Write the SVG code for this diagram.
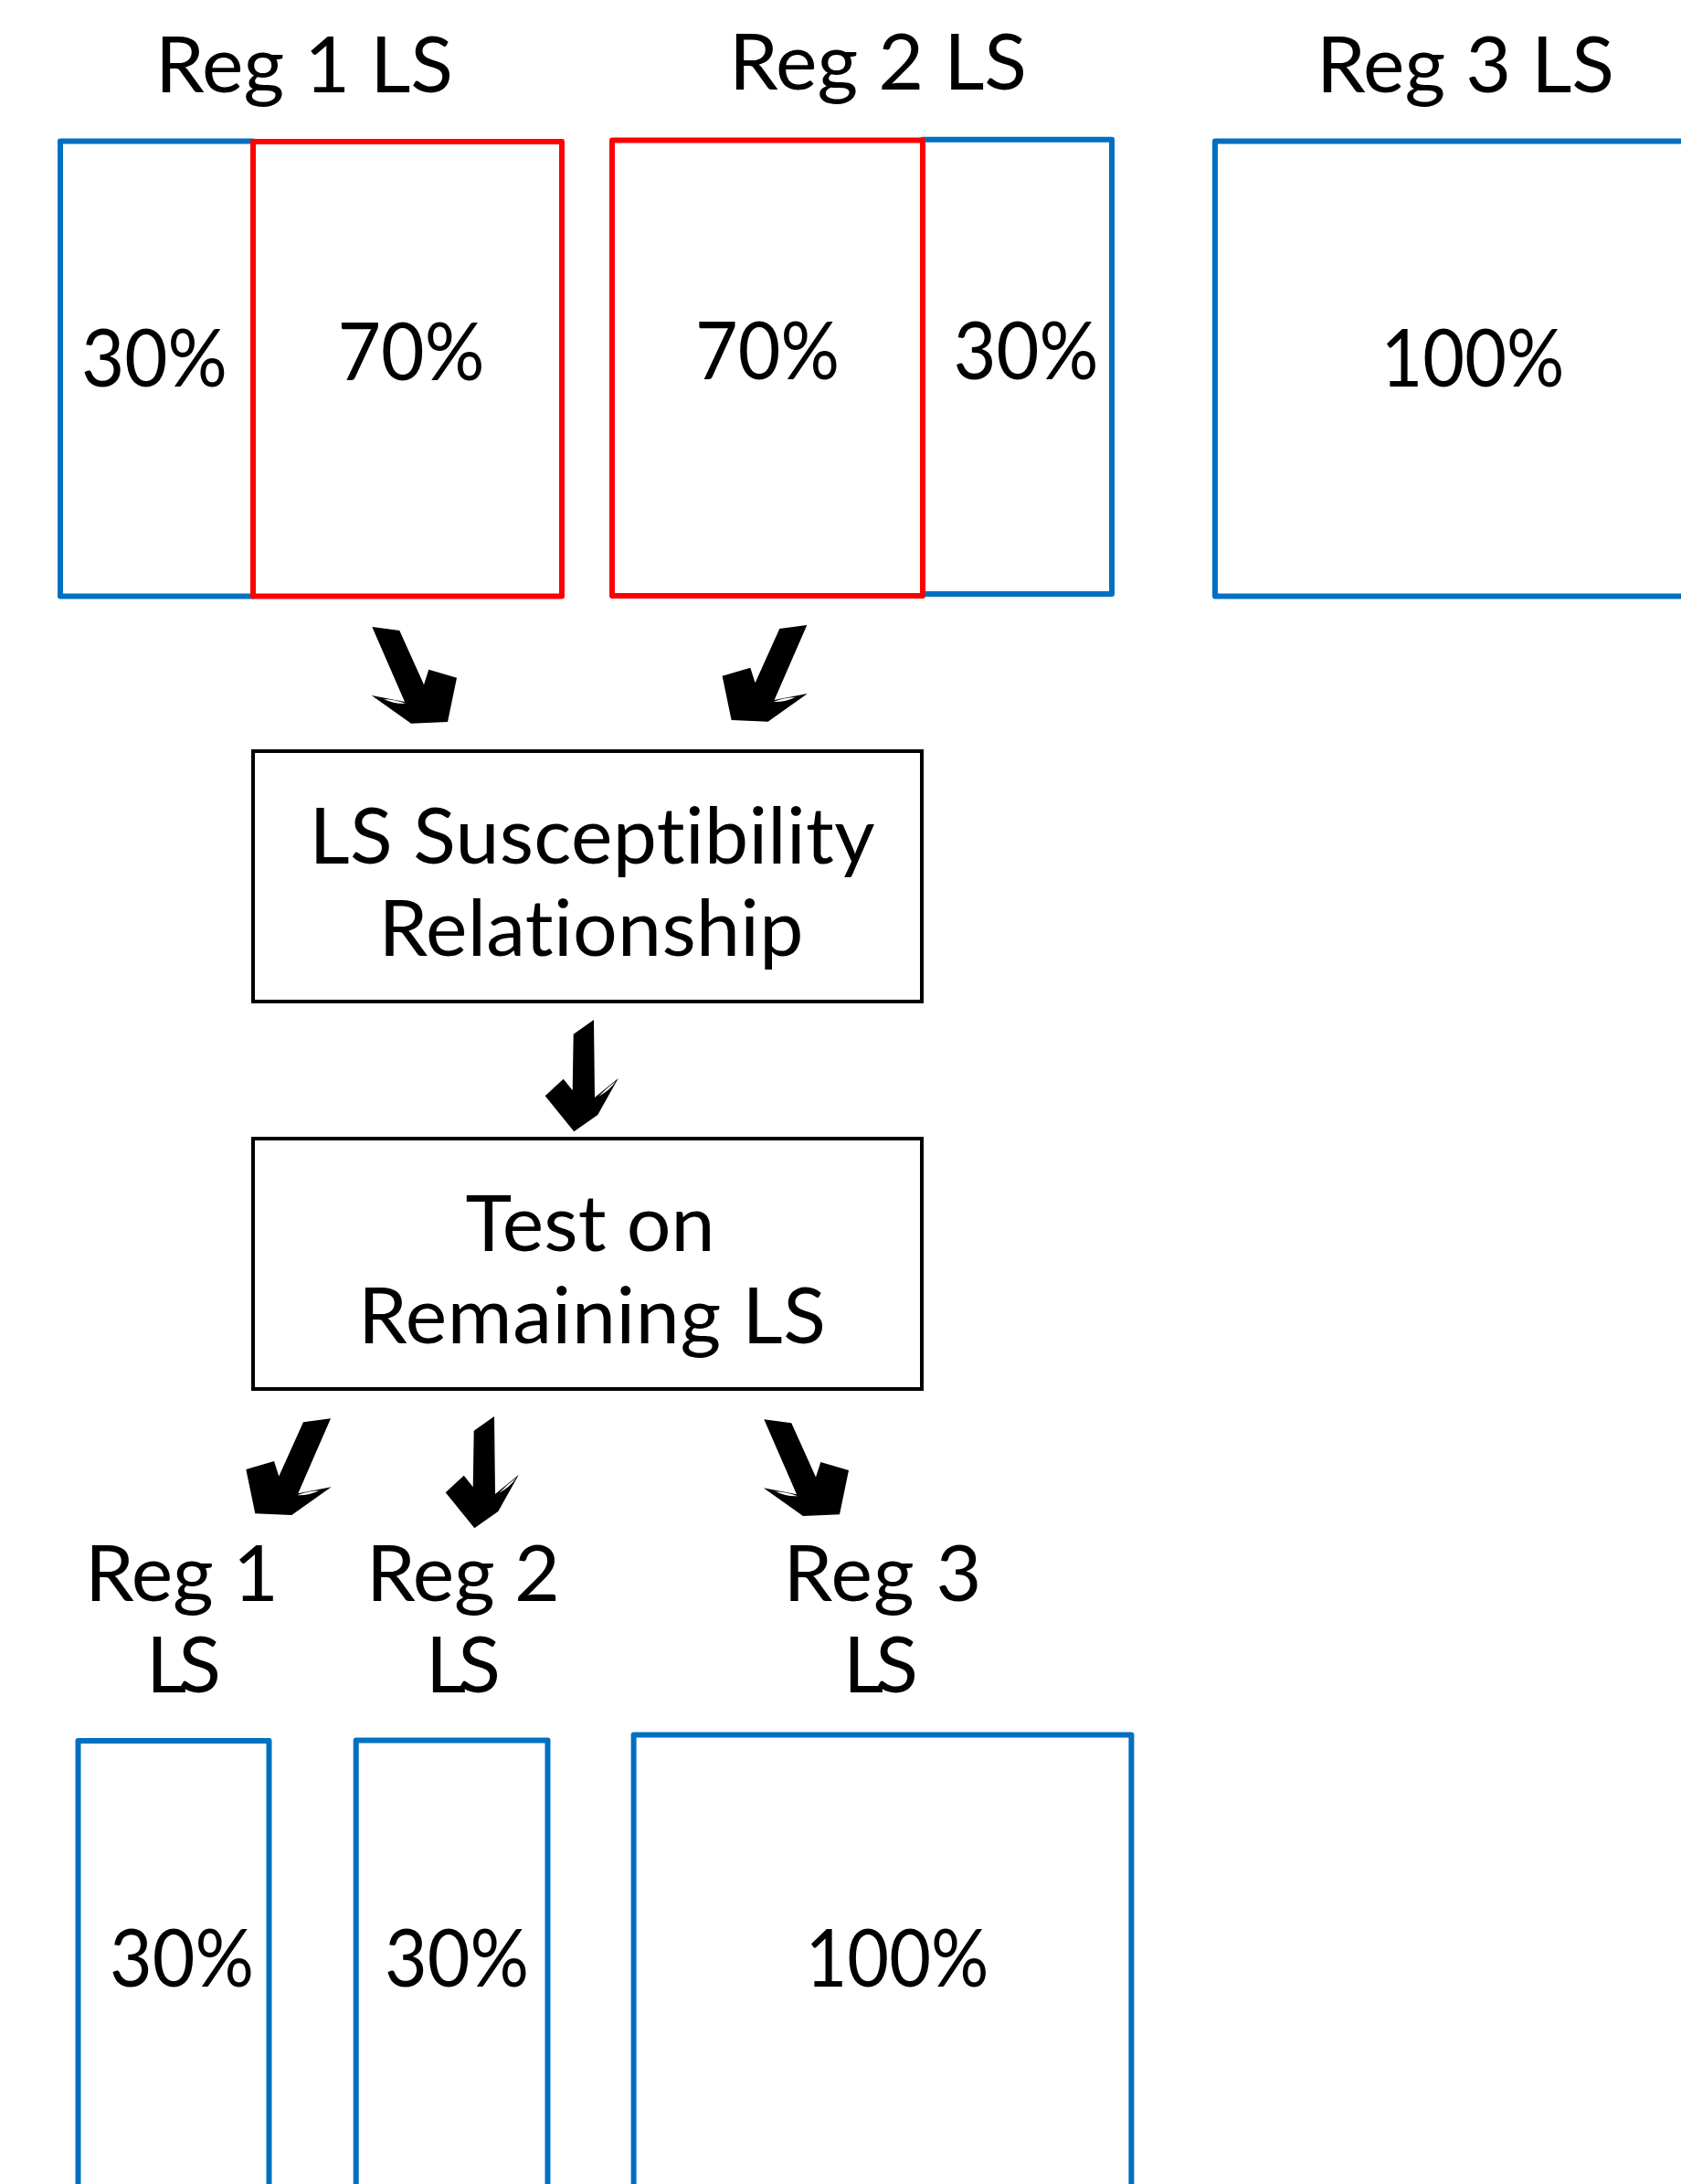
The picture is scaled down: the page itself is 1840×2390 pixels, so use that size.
<svg xmlns="http://www.w3.org/2000/svg" width="1840" height="2390" viewBox="0 0 1840 2390">
  <style>
    .lbl { font-family: Lato, "Liberation Sans", sans-serif; font-size: 86px; fill: #000000; text-anchor: middle; font-variant-ligatures: none; }
    .pct { font-size: 88px; }
    .blue { fill: none; stroke: #0070C0; stroke-width: 6; stroke-linejoin: round; }
    .red { fill: none; stroke: #FF0000; stroke-width: 6; stroke-linejoin: round; }
    .step { fill: none; stroke: #000000; stroke-width: 4; }
    .arrow { fill: #000000; }
    .gap { fill: #FFFFFF; }
  </style>
  <defs>
    <!-- block arrow pointing down and to the right -->
    <g id="arrow-diag">
      <polygon class="arrow" points="7.3,6 37.3,10 64,69.3 69.3,52.7 100,61.7 90,110 50,111.7 6.7,81 43,88"/>
      <path class="gap" d="M20,85 Q33,85.5 44,90 Q31,90.5 20,85 Z"/>
    </g>
    <!-- block arrow pointing straight down -->
    <g id="arrow-down">
      <polygon class="arrow" points="65,6 42.7,21.7 41.7,83.3 31.7,70.7 11.7,89.3 43.3,128.3 69.3,110 91.7,70 66,91"/>
      <path class="gap" d="M70,90 Q80,80 89,73 Q83,83 70,90 Z"/>
    </g>
  </defs>

  <rect x="0" y="0" width="1840" height="2390" fill="#FFFFFF"/>

  <!-- region 1 split: 30% / 70% -->
  <g id="reg1-split">
    <text class="lbl" x="333" y="101" textLength="326">Reg 1 LS</text>
    <rect class="blue" x="66" y="154.5" width="211" height="498"/>
    <rect class="red" x="277" y="155" width="338" height="497.5"/>
    <text class="lbl pct" x="169" y="423" textLength="160" lengthAdjust="spacingAndGlyphs">30%</text>
    <text class="lbl pct" x="450" y="416" textLength="161" lengthAdjust="spacingAndGlyphs">70%</text>
  </g>

  <!-- region 2 split: 70% / 30% -->
  <g id="reg2-split">
    <text class="lbl" x="961" y="98" textLength="326">Reg 2 LS</text>
    <rect class="blue" x="1010" y="152.7" width="207" height="497.3"/>
    <rect class="red" x="670" y="153.5" width="340" height="498.5"/>
    <text class="lbl pct" x="840" y="415" textLength="158" lengthAdjust="spacingAndGlyphs">70%</text>
    <text class="lbl pct" x="1123" y="415" textLength="159" lengthAdjust="spacingAndGlyphs">30%</text>
  </g>

  <!-- region 3: all held out -->
  <g id="reg3-all">
    <text class="lbl" x="1604" y="101" textLength="326">Reg 3 LS</text>
    <rect class="blue" x="1330" y="154.5" width="600" height="498"/>
    <text class="lbl pct" x="1612" y="423" textLength="201" lengthAdjust="spacingAndGlyphs">100%</text>
  </g>

  <!-- model fitting step -->
  <g id="susceptibility">
    <rect class="step" x="277" y="822" width="732" height="274"/>
    <text class="lbl" x="648" y="945" textLength="619">LS Susceptibility</text>
    <text class="lbl" x="647" y="1046" textLength="465">Relationship</text>
  </g>

  <!-- evaluation step -->
  <g id="test">
    <rect class="step" x="277" y="1246" width="732" height="274"/>
    <text class="lbl" x="646" y="1369" textLength="273">Test on</text>
    <text class="lbl" x="648" y="1470" textLength="512">Remaining LS</text>
  </g>

  <!-- test sets -->
  <g id="reg1-test">
    <text class="lbl" x="199" y="1752" textLength="212">Reg 1</text>
    <text class="lbl" x="201" y="1852" textLength="82">LS</text>
    <rect class="blue" x="85.5" y="1905" width="209" height="600"/>
    <text class="lbl pct" x="199" y="2174" textLength="158" lengthAdjust="spacingAndGlyphs">30%</text>
  </g>
  <g id="reg2-test">
    <text class="lbl" x="507" y="1752" textLength="212">Reg 2</text>
    <text class="lbl" x="507" y="1852" textLength="82">LS</text>
    <rect class="blue" x="389.7" y="1904.5" width="209.8" height="600"/>
    <text class="lbl pct" x="500" y="2174" textLength="158" lengthAdjust="spacingAndGlyphs">30%</text>
  </g>
  <g id="reg3-test">
    <text class="lbl" x="966" y="1752" textLength="217">Reg 3</text>
    <text class="lbl" x="964" y="1852" textLength="82">LS</text>
    <rect class="blue" x="693.6" y="1898.5" width="544.8" height="600"/>
    <text class="lbl pct" x="982" y="2174" textLength="201" lengthAdjust="spacingAndGlyphs">100%</text>
  </g>

  <!-- connectors -->
  <g id="connectors">
    <use href="#arrow-diag" transform="translate(400,680)"/>
    <use href="#arrow-diag" transform="translate(890.6,678) scale(-1,1)"/>
    <use href="#arrow-down" transform="translate(585,1110)"/>
    <use href="#arrow-diag" transform="translate(369.3,1546.3) scale(-1,1)"/>
    <use href="#arrow-down" transform="translate(476,1544)"/>
    <use href="#arrow-diag" transform="translate(829,1547.3)"/>
  </g>
</svg>
